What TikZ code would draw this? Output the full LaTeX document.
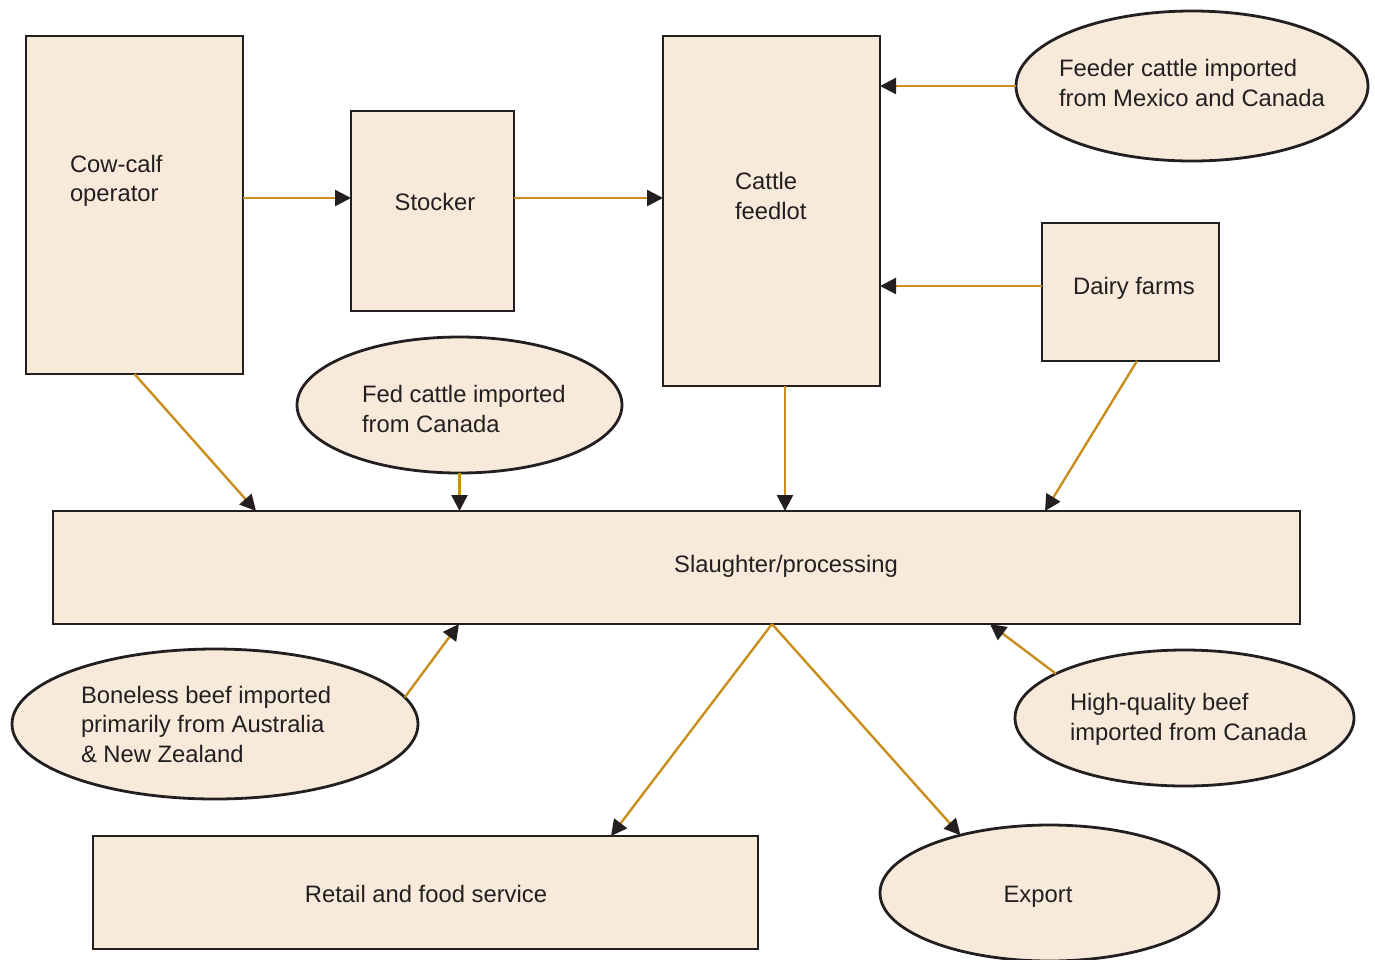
\documentclass[tikz,border=0pt]{standalone}
\usepackage{fontspec}
\setmainfont{Liberation Sans}
\usetikzlibrary{shapes.geometric,arrows.meta,calc}
\definecolor{boxfill}{HTML}{F7EADB}
\definecolor{boxline}{HTML}{231F20}
\definecolor{arrowcol}{HTML}{C98E1B}
\begin{document}
\begin{tikzpicture}[x=1pt,y=-1pt,
  every node/.style={inner sep=0pt,outer sep=0pt},
  rectbox/.style={draw=boxline,fill=boxfill,line width=2.8pt,rectangle},
  ellbox/.style={draw=boxline,fill=boxfill,line width=2.8pt,ellipse},
  lbl/.style={font=\fontsize{23.8}{29.5}\selectfont,text=boxline,align=left,anchor=base west},
  clbl/.style={font=\fontsize{23.8}{29.5}\selectfont,text=boxline,anchor=base},
  flow/.style={draw=arrowcol,line width=2.4pt,-{Triangle[length=16pt,width=16pt,color=boxline]}}
]
\useasboundingbox (0,0) rectangle (1375,959);

% shapes
\node[rectbox,minimum width=217pt,minimum height=338pt] (cow) at (134.5,205) {};
\node[rectbox,minimum width=163pt,minimum height=200pt] (stocker) at (432.5,211) {};
\node[rectbox,minimum width=217pt,minimum height=350pt] (feedlot) at (771.5,211) {};
\node[ellbox,minimum width=352pt,minimum height=150pt] (feeder) at (1192,86) {};
\node[rectbox,minimum width=177pt,minimum height=138pt] (dairy) at (1130.5,292) {};
\node[ellbox,minimum width=325pt,minimum height=136pt] (fed) at (459.5,405) {};
\node[rectbox,minimum width=1247pt,minimum height=113pt] (slaughter) at (676.5,567.5) {};
\node[ellbox,minimum width=406pt,minimum height=150pt] (boneless) at (215,724) {};
\node[ellbox,minimum width=339pt,minimum height=136pt] (hq) at (1184.5,718) {};
\node[rectbox,minimum width=665pt,minimum height=113pt] (retail) at (425.5,892.5) {};
\node[ellbox,minimum width=339pt,minimum height=136pt] (export) at (1049.5,893) {};

% texts (anchor = baseline of last line)
\node[lbl] (cowt) at (70,201.5) {Cow-calf\\operator};
\node[clbl] (stockert) at (435,210) {Stocker};
\node[lbl] (feedlott) at (735,219) {Cattle\\feedlot};
\node[lbl] (feedert) at (1059,106) {Feeder cattle imported\\from Mexico and Canada};
\node[clbl] (dairyt) at (1134,294) {Dairy farms};
\node[lbl] (fedt) at (362,432) {Fed cattle imported\\from Canada};
\node[clbl] (slaughtert) at (786,572) {Slaughter/processing};
\node[lbl] (bonelesst) at (81,762) {Boneless beef imported\\primarily from Australia\\\& New Zealand};
\node[lbl] (hqt) at (1070,740) {High-quality beef\\imported from Canada};
\node[clbl] (retailt) at (426,902) {Retail and food service};
\node[clbl] (exportt) at (1038,902) {Export};

% connectors
\draw[flow] ($(cow.north east)+(0,162)$) -- ($(stocker.north west)+(0,87)$);
\draw[flow] ($(stocker.north east)+(0,87)$) -- ($(feedlot.north west)+(0,162)$);
\draw[flow] (feeder.west) -- ($(feedlot.north east)+(0,50)$);
\draw[flow] ($(dairy.north west)+(0,63)$) -- ($(feedlot.north east)+(0,250)$);
\draw[flow] (cow.south) -- ($(slaughter.north west)+(203,0)$);
\draw[flow] (fed.south) -- ($(slaughter.north west)+(406.5,0)$);
\draw[flow] ($(feedlot.south west)+(122,0)$) -- ($(slaughter.north west)+(732,0)$);
\draw[flow] ($(dairy.south west)+(95,0)$) -- ($(slaughter.north west)+(992,0)$);
\draw[flow] (boneless.8) -- ($(slaughter.south west)+(406,0)$);
\draw[flow] (hq.161) -- ($(slaughter.south west)+(937,0)$);
\draw[flow] ($(slaughter.south west)+(719,0)$) -- ($(retail.north west)+(518,0)$);
\draw[flow] ($(slaughter.south west)+(719,0)$) -- (export.147);
\end{tikzpicture}
\end{document}
